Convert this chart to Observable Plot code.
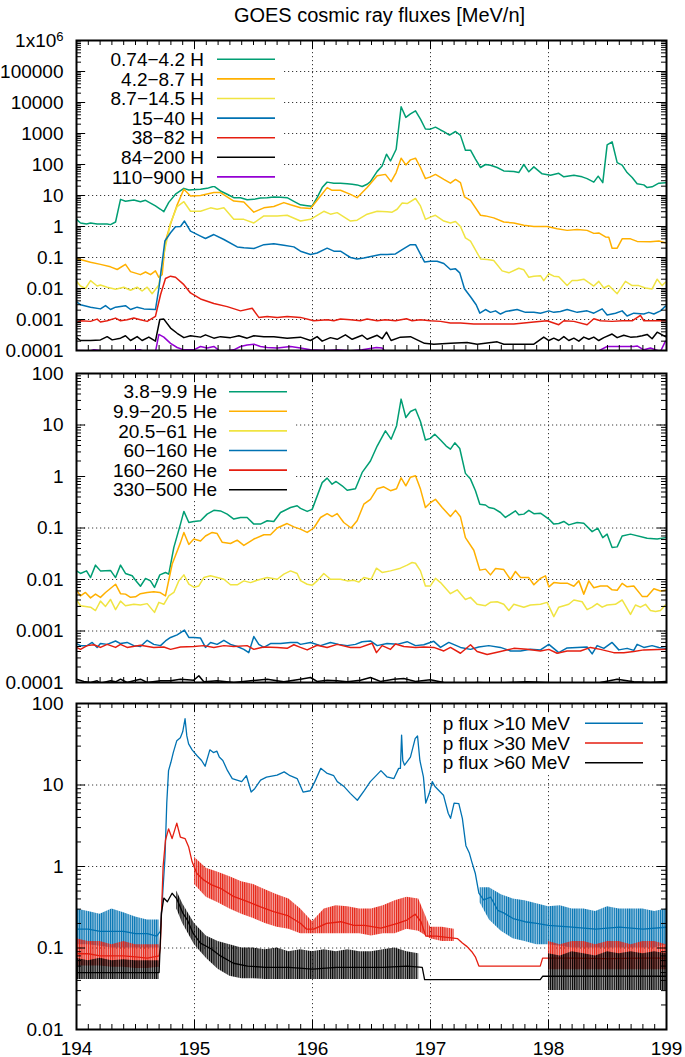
<!DOCTYPE html>
<html><head><meta charset="utf-8">
<script src="https://cdn.jsdelivr.net/npm/d3@7"></script>
<script src="https://cdn.jsdelivr.net/npm/@observablehq/plot@0.6"></script>
<style>
html,body{margin:0;padding:0;background:#fff;overflow:hidden;}
#chart svg{display:block;}
</style></head><body><div id="chart"></div>
<script>
// ---------------- DATA ----------------
const titleText = "GOES cosmic ray fluxes [MeV/n]";
const xTickValues = [194, 195, 196, 197, 198, 199];
const xTickLabels = ["194", "195", "196", "197", "198", "199"];

const yTicks1 = [1e-4, 1e-3, 0.01, 0.1, 1, 10, 100, 1000, 1e4, 1e5, 1e6];
const yLabels1 = ["0.0001", "0.001", "0.01", "0.1", "1", "10", "100", "1000", "10000", "100000", "1x10^6"];
const yTicks2 = [1e-4, 1e-3, 0.01, 0.1, 1, 10, 100];
const yLabels2 = ["0.0001", "0.001", "0.01", "0.1", "1", "10", "100"];
const yTicks3 = [0.01, 0.1, 1, 10, 100];
const yLabels3 = ["0.01", "0.1", "1", "10", "100"];

const names1 = ["0.74\u22124.2 H", "4.2\u22128.7 H", "8.7\u221214.5 H", "15\u221240 H", "38\u221282 H", "84\u2212200 H", "110\u2212900 H"];
const names2 = ["3.8\u22129.9 He", "9.9\u221220.5 He", "20.5\u221261 He", "60\u2212160 He", "160\u2212260 He", "330\u2212500 He"];
const names3 = ["p flux >10 MeV", "p flux >30 MeV", "p flux >60 MeV"];

// proton channels [day, flux]
const H_074_42 = [[194.000,1.7],[194.034,1.3],[194.085,1.2],[194.119,1.3],[194.175,1.2],[194.203,1.2],[194.260,1.2],[194.288,1.15],[194.331,1.4],[194.373,7.5],[194.415,6.5],[194.486,7.2],[194.542,6.3],[194.585,7.0],[194.627,5.7],[194.669,4.6],[194.712,3.6],[194.740,3.0],[194.782,6],[194.839,11],[194.910,17],[194.952,15],[195.051,16],[195.107,17],[195.164,20],[195.220,14],[195.277,11],[195.333,8.5],[195.390,8.5],[195.446,7.3],[195.503,7.5],[195.559,8.3],[195.616,8.5],[195.672,9.0],[195.729,8.8],[195.785,8.5],[195.842,6.5],[195.898,5.0],[195.955,4.7],[195.997,4.5],[196.039,8.5],[196.082,18],[196.124,27],[196.181,25],[196.237,25],[196.294,24],[196.336,23],[196.378,22],[196.421,19.5],[196.463,23],[196.491,28],[196.548,60],[196.590,90],[196.627,215],[196.661,130],[196.709,310],[196.751,7300],[196.791,3300],[196.830,4300],[196.873,5400],[196.915,2900],[196.957,1400],[196.999,1380],[197.042,1600],[197.085,1300],[197.113,1150],[197.161,890],[197.212,1160],[197.254,870],[197.296,290],[197.339,290],[197.381,150],[197.424,80],[197.466,100],[197.508,95],[197.565,80],[197.621,62],[197.706,59],[197.748,55],[197.791,100],[197.833,58],[197.876,84],[197.946,50],[198.017,45],[198.087,52],[198.130,40],[198.215,45],[198.285,40],[198.327,35],[198.384,27],[198.421,42],[198.460,26],[198.497,430],[198.539,540],[198.582,115],[198.624,95],[198.666,55],[198.709,38],[198.751,24],[198.808,22],[198.836,18],[198.878,19],[198.935,25],[198.991,26]];
const H_42_87 = [[194.000,0.093],[194.119,0.07],[194.203,0.06],[194.288,0.05],[194.345,0.041],[194.415,0.06],[194.458,0.035],[194.542,0.028],[194.585,0.034],[194.627,0.028],[194.669,0.037],[194.698,0.023],[194.726,0.028],[194.754,0.34],[194.797,1.2],[194.853,5],[194.910,16],[194.966,9.6],[195.051,10],[195.164,12.4],[195.220,12.4],[195.333,6.6],[195.418,6.2],[195.503,2.9],[195.588,4.0],[195.672,4.4],[195.757,5.9],[195.814,5.0],[195.898,4.0],[195.983,3.8],[196.068,9.6],[196.124,18],[196.166,14.7],[196.237,14.7],[196.322,10.9],[196.378,8.5],[196.463,18],[196.548,43],[196.618,48],[196.666,28],[196.709,55],[196.751,160],[196.791,97],[196.830,141],[196.873,160],[196.915,80],[196.957,35],[196.999,40],[197.042,48],[197.113,33],[197.169,25],[197.212,33],[197.254,26],[197.288,9],[197.339,7],[197.424,2.3],[197.466,2.2],[197.536,1.9],[197.621,1.4],[197.706,1.3],[197.791,1.1],[197.876,1.0],[197.988,1.0],[198.073,0.85],[198.158,0.75],[198.243,0.8],[198.327,0.75],[198.384,0.6],[198.426,0.62],[198.483,0.46],[198.511,0.45],[198.539,0.2],[198.582,0.2],[198.624,0.4],[198.695,0.4],[198.751,0.33],[198.864,0.32],[198.935,0.34],[198.991,0.3]];
const H_87_145 = [[194.000,0.017],[194.034,0.012],[194.076,0.01],[194.119,0.018],[194.175,0.012],[194.203,0.013],[194.260,0.011],[194.331,0.0095],[194.401,0.011],[194.458,0.0088],[194.514,0.011],[194.556,0.0083],[194.599,0.011],[194.641,0.0068],[194.698,0.013],[194.740,0.13],[194.797,1.3],[194.853,4.4],[194.910,6.3],[194.966,3.1],[195.051,3.1],[195.136,4.0],[195.192,3.6],[195.249,4.0],[195.333,1.7],[195.418,1.7],[195.503,1.3],[195.588,2.2],[195.701,2.2],[195.785,2.3],[195.898,1.5],[195.983,1.7],[196.096,3.1],[196.152,2.5],[196.209,2.8],[196.322,1.5],[196.378,1.6],[196.463,2.5],[196.548,3.1],[196.632,3.0],[196.675,2.9],[196.717,3.6],[196.760,5.7],[196.802,5.5],[196.873,8.0],[196.915,4.6],[196.957,1.7],[196.999,2.0],[197.042,2.3],[197.113,1.5],[197.169,1.3],[197.212,1.45],[197.254,1.0],[197.296,0.43],[197.339,0.34],[197.424,0.09],[197.480,0.086],[197.536,0.08],[197.607,0.037],[197.664,0.032],[197.748,0.045],[197.791,0.04],[197.833,0.023],[197.876,0.025],[197.932,0.026],[197.960,0.018],[198.003,0.030],[198.045,0.025],[198.087,0.024],[198.158,0.0125],[198.200,0.018],[198.243,0.018],[198.299,0.02],[198.384,0.012],[198.426,0.017],[198.469,0.0104],[198.511,0.0125],[198.582,0.0068],[198.652,0.017],[198.709,0.0124],[198.765,0.0124],[198.822,0.0104],[198.878,0.0097],[198.921,0.02],[198.963,0.0124],[198.991,0.016]];
const H_15_40 = [[194.000,0.0037],[194.034,0.003],[194.119,0.0025],[194.203,0.0022],[194.246,0.0028],[194.288,0.0021],[194.331,0.0025],[194.415,0.0028],[194.458,0.0021],[194.514,0.0025],[194.571,0.0022],[194.669,0.0021],[194.698,0.01],[194.749,0.34],[194.797,0.63],[194.839,0.98],[194.881,1.0],[194.915,1.5],[194.966,0.71],[195.051,0.49],[195.093,0.41],[195.164,0.55],[195.249,0.38],[195.362,0.22],[195.418,0.205],[195.503,0.195],[195.588,0.26],[195.672,0.28],[195.757,0.25],[195.842,0.22],[195.898,0.16],[195.983,0.125],[196.039,0.14],[196.124,0.2],[196.181,0.16],[196.237,0.16],[196.322,0.1],[196.378,0.09],[196.435,0.097],[196.505,0.11],[196.576,0.125],[196.632,0.125],[196.703,0.13],[196.760,0.18],[196.830,0.26],[196.873,0.26],[196.949,0.072],[196.999,0.076],[197.056,0.076],[197.113,0.064],[197.169,0.041],[197.212,0.043],[197.248,0.032],[197.288,0.0098],[197.339,0.0054],[197.387,0.003],[197.418,0.0016],[197.466,0.0021],[197.508,0.0017],[197.551,0.0019],[197.593,0.0015],[197.635,0.0018],[197.734,0.0021],[197.805,0.0017],[197.876,0.0017],[197.932,0.0016],[198.003,0.0019],[198.045,0.0017],[198.101,0.0018],[198.158,0.0021],[198.243,0.0017],[198.327,0.0019],[198.384,0.0016],[198.455,0.0022],[198.497,0.0014],[198.568,0.0016],[198.624,0.0019],[198.666,0.0013],[198.723,0.0016],[198.808,0.0015],[198.850,0.0017],[198.893,0.0015],[198.949,0.0019],[198.991,0.0027]];
const H_38_82 = [[194.000,0.00081],[194.034,0.00091],[194.119,0.00087],[194.175,0.00103],[194.203,0.00083],[194.260,0.00091],[194.331,0.00111],[194.373,0.00091],[194.429,0.00098],[194.486,0.00111],[194.542,0.00098],[194.599,0.00087],[194.669,0.00126],[194.712,0.0063],[194.754,0.021],[194.797,0.025],[194.839,0.023],[194.910,0.0133],[194.966,0.0072],[195.051,0.0046],[195.164,0.0033],[195.277,0.0026],[195.390,0.0019],[195.489,0.0023],[195.545,0.00117],[195.616,0.00126],[195.701,0.00117],[195.785,0.00126],[195.898,0.00117],[196.011,0.00091],[196.124,0.00098],[196.181,0.00091],[196.237,0.00103],[196.322,0.00098],[196.406,0.00091],[196.463,0.00103],[196.548,0.00091],[196.618,0.00098],[196.703,0.00091],[196.796,0.00106],[196.844,0.00091],[196.915,0.00098],[196.999,0.00091],[197.085,0.00087],[197.169,0.00077],[197.254,0.00077],[197.367,0.00071],[197.480,0.00071],[197.593,0.00071],[197.706,0.00071],[197.791,0.00077],[197.876,0.00083],[197.988,0.00091],[198.087,0.00068],[198.130,0.00091],[198.215,0.00087],[198.327,0.00068],[198.384,0.00106],[198.440,0.00091],[198.539,0.00087],[198.624,0.00091],[198.709,0.00091],[198.779,0.00136],[198.808,0.00091],[198.893,0.00091],[198.991,0.00091]];
const H_84_200 = [[194.000,0.00026],[194.034,0.00021],[194.119,0.00021],[194.203,0.00022],[194.260,0.00028],[194.302,0.00022],[194.373,0.00025],[194.415,0.0003],[194.458,0.00021],[194.514,0.00028],[194.556,0.00021],[194.613,0.00027],[194.669,0.0002],[194.706,0.001],[194.740,0.00103],[194.797,0.00053],[194.853,0.00036],[194.910,0.00026],[194.966,0.0003],[195.051,0.00027],[195.093,0.00032],[195.164,0.00025],[195.220,0.00028],[195.305,0.00026],[195.376,0.0003],[195.446,0.00025],[195.503,0.0003],[195.588,0.00028],[195.672,0.00028],[195.785,0.00025],[195.898,0.00027],[195.983,0.00021],[196.039,0.00028],[196.082,0.0002],[196.152,0.00026],[196.209,0.00023],[196.279,0.00032],[196.336,0.00023],[196.421,0.00031],[196.463,0.00023],[196.548,0.00031],[196.590,0.00024],[196.627,0.00039],[196.666,0.00021],[196.745,0.00027],[196.830,0.00028],[196.887,0.00022],[196.949,0.00017],[197.028,0.00016],[197.169,0.00017],[197.310,0.00018],[197.395,0.00016],[197.565,0.00019],[197.621,0.00016],[197.876,0.00016],[197.960,0.00027],[198.003,0.00021],[198.045,0.00025],[198.087,0.00021],[198.130,0.00028],[198.172,0.00021],[198.215,0.00025],[198.257,0.0002],[198.299,0.00027],[198.342,0.00023],[198.384,0.00027],[198.426,0.00021],[198.469,0.00026],[198.539,0.00034],[198.582,0.00026],[198.638,0.00031],[198.695,0.00027],[198.751,0.00028],[198.794,0.0003],[198.836,0.00033],[198.878,0.00024],[198.921,0.00039],[198.991,0.00028]];
const H_110_900 = [[194.000,0.0001],[194.119,0.000098],[194.147,0.000105],[194.203,0.0001],[194.316,0.000093],[194.542,0.000105],[194.599,0.000085],[194.669,0.00009],[194.698,0.00033],[194.740,0.00027],[194.797,0.00017],[194.853,0.000125],[194.910,0.000105],[194.994,0.000105],[195.051,0.000135],[195.107,0.00012],[195.164,0.000135],[195.220,0.000093],[195.333,0.000105],[195.390,0.000135],[195.446,0.00015],[195.503,0.00016],[195.559,0.000135],[195.616,0.000125],[195.701,0.00012],[195.814,0.000135],[195.898,0.00012],[195.983,0.000105],[196.124,0.0001],[196.209,0.000105],[196.322,0.000098],[196.421,0.000105],[196.542,0.000125],[196.590,0.00012],[196.632,0.00008],[197.000,0.00007],[197.500,0.00007],[198.000,0.00007],[198.356,0.00008],[198.384,0.000098],[198.426,0.000098],[198.497,0.000135],[198.539,0.000135],[198.723,0.000135],[198.751,0.00014],[198.808,0.000105],[198.864,0.00012],[198.949,0.000093],[198.991,0.0002]];

// helium channels [day, flux]
const He_38_99 = [[194.000,0.0147],[194.034,0.0131],[194.085,0.0147],[194.119,0.0109],[194.161,0.019],[194.203,0.0147],[194.288,0.015],[194.331,0.0109],[194.373,0.019],[194.415,0.0131],[194.472,0.0118],[194.500,0.0097],[194.542,0.0074],[194.585,0.0105],[194.627,0.0094],[194.661,0.007],[194.706,0.0123],[194.754,0.0137],[194.782,0.0127],[194.825,0.042],[194.881,0.119],[194.910,0.21],[194.952,0.128],[194.994,0.134],[195.051,0.138],[195.107,0.186],[195.164,0.22],[195.220,0.215],[195.277,0.186],[195.333,0.149],[195.390,0.16],[195.446,0.16],[195.503,0.119],[195.559,0.119],[195.616,0.138],[195.672,0.134],[195.729,0.2],[195.814,0.25],[195.870,0.27],[195.898,0.24],[195.955,0.21],[195.997,0.23],[196.082,0.76],[196.124,0.93],[196.166,0.71],[196.200,0.8],[196.251,0.66],[196.294,0.54],[196.364,0.58],[196.421,1.2],[196.491,2.0],[196.548,3.9],[196.618,7.7],[196.666,5.3],[196.712,9.6],[196.751,31.8],[196.791,14],[196.830,18.3],[196.873,20.3],[196.915,11.7],[196.957,5.1],[196.999,5.5],[197.036,6.6],[197.085,5.1],[197.133,3.9],[197.169,3.4],[197.206,4.5],[197.248,3.5],[197.296,1.15],[197.339,0.89],[197.381,0.53],[197.418,0.29],[197.466,0.28],[197.494,0.25],[197.536,0.24],[197.593,0.2],[197.635,0.16],[197.678,0.186],[197.720,0.215],[197.748,0.18],[197.791,0.186],[197.833,0.22],[197.876,0.19],[197.932,0.194],[198.003,0.149],[198.045,0.119],[198.087,0.122],[198.130,0.134],[198.172,0.115],[198.243,0.128],[198.299,0.124],[198.370,0.085],[198.418,0.099],[198.460,0.065],[198.497,0.076],[198.539,0.042],[198.582,0.043],[198.624,0.07],[198.695,0.076],[198.836,0.063],[198.921,0.061],[198.991,0.065]];
const He_99_205 = [[194.000,0.0062],[194.034,0.0048],[194.076,0.0056],[194.119,0.0044],[194.161,0.0052],[194.203,0.0045],[194.246,0.0056],[194.331,0.0081],[194.373,0.0053],[194.415,0.0052],[194.458,0.0045],[194.500,0.0046],[194.542,0.0053],[194.599,0.0056],[194.655,0.0058],[194.706,0.0056],[194.754,0.0048],[194.811,0.02],[194.881,0.052],[194.910,0.082],[194.952,0.048],[194.994,0.061],[195.051,0.056],[195.093,0.07],[195.150,0.082],[195.192,0.078],[195.234,0.053],[195.305,0.05],[195.362,0.058],[195.418,0.046],[195.503,0.061],[195.588,0.074],[195.644,0.074],[195.701,0.1],[195.785,0.122],[195.842,0.105],[195.898,0.095],[195.955,0.082],[196.011,0.1],[196.068,0.16],[196.124,0.19],[196.166,0.167],[196.209,0.19],[196.265,0.128],[196.327,0.1],[196.378,0.138],[196.435,0.29],[196.491,0.36],[196.548,0.58],[196.604,0.63],[196.661,0.53],[196.712,0.58],[196.751,0.94],[196.791,0.66],[196.830,0.97],[196.873,1.03],[196.915,0.57],[196.957,0.25],[196.999,0.31],[197.042,0.36],[197.099,0.25],[197.169,0.167],[197.212,0.22],[197.254,0.165],[197.296,0.065],[197.367,0.037],[197.418,0.0152],[197.466,0.0159],[197.508,0.0123],[197.551,0.0164],[197.621,0.0156],[197.678,0.01],[197.720,0.0143],[197.763,0.0109],[197.833,0.0109],[197.876,0.0079],[197.932,0.0105],[197.974,0.0118],[198.003,0.0072],[198.045,0.0087],[198.101,0.0085],[198.158,0.0085],[198.215,0.0074],[198.257,0.0094],[198.299,0.0052],[198.342,0.0094],[198.384,0.0069],[198.440,0.0075],[198.497,0.0075],[198.539,0.0063],[198.582,0.0062],[198.624,0.0084],[198.666,0.0072],[198.723,0.0075],[198.794,0.0047],[198.836,0.0047],[198.893,0.0066],[198.949,0.006],[198.991,0.0062]];
const He_205_61 = [[194.000,0.004],[194.034,0.0031],[194.119,0.0029],[194.161,0.0025],[194.203,0.0038],[194.246,0.003],[194.288,0.0041],[194.331,0.0026],[194.373,0.0038],[194.415,0.0031],[194.486,0.0033],[194.542,0.0032],[194.599,0.0034],[194.661,0.0023],[194.698,0.0036],[194.740,0.0033],[194.782,0.0048],[194.825,0.0056],[194.867,0.0094],[194.910,0.0123],[194.952,0.0081],[194.994,0.0071],[195.037,0.0075],[195.079,0.0109],[195.136,0.0118],[195.192,0.0109],[195.249,0.0101],[195.305,0.0079],[195.362,0.0079],[195.418,0.0094],[195.475,0.0087],[195.531,0.0097],[195.616,0.0109],[195.701,0.0101],[195.757,0.0127],[195.814,0.0147],[195.870,0.0131],[195.898,0.0095],[195.955,0.0081],[195.997,0.0077],[196.039,0.0094],[196.096,0.0131],[196.152,0.0101],[196.237,0.0101],[196.294,0.0094],[196.350,0.0097],[196.392,0.0089],[196.435,0.0109],[196.497,0.0101],[196.542,0.0166],[196.590,0.0137],[196.661,0.0147],[196.745,0.0166],[196.802,0.019],[196.844,0.0214],[196.873,0.0207],[196.915,0.0147],[196.957,0.0075],[196.999,0.0075],[197.042,0.0105],[197.085,0.0087],[197.169,0.0053],[197.226,0.0063],[197.296,0.0041],[197.339,0.0045],[197.395,0.0033],[197.466,0.0031],[197.508,0.0036],[197.565,0.0037],[197.621,0.0033],[197.664,0.0025],[197.706,0.0033],[197.748,0.0031],[197.791,0.0029],[197.847,0.0032],[197.932,0.0033],[197.988,0.0036],[198.045,0.0019],[198.087,0.0029],[198.130,0.0031],[198.172,0.0033],[198.215,0.004],[198.285,0.0037],[198.327,0.0026],[198.370,0.0029],[198.412,0.0034],[198.455,0.0029],[198.497,0.0032],[198.567,0.0033],[198.624,0.004],[198.695,0.0021],[198.737,0.0032],[198.779,0.0029],[198.822,0.0033],[198.864,0.0025],[198.907,0.0024],[198.949,0.0025],[198.991,0.0032]];
const He_60_160 = [[194.000,0.00057],[194.034,0.00052],[194.090,0.00052],[194.133,0.0006],[194.175,0.00048],[194.203,0.00057],[194.260,0.00055],[194.331,0.00064],[194.373,0.00057],[194.429,0.0006],[194.486,0.00052],[194.542,0.0005],[194.599,0.00066],[194.655,0.00055],[194.712,0.00052],[194.754,0.00064],[194.797,0.00075],[194.853,0.00084],[194.915,0.00104],[194.952,0.00075],[194.994,0.00075],[195.051,0.00073],[195.093,0.00048],[195.136,0.0006],[195.192,0.00055],[195.249,0.00066],[195.305,0.00055],[195.362,0.0005],[195.418,0.00044],[195.460,0.00038],[195.503,0.00078],[195.545,0.00055],[195.588,0.00048],[195.644,0.00057],[195.729,0.00057],[195.814,0.0006],[195.870,0.0006],[195.898,0.00055],[195.983,0.0006],[196.068,0.00052],[196.152,0.0006],[196.223,0.00055],[196.294,0.00052],[196.364,0.00055],[196.421,0.00062],[196.491,0.00064],[196.548,0.00052],[196.632,0.00057],[196.717,0.00055],[196.802,0.00062],[196.873,0.00052],[196.943,0.00054],[197.028,0.00063],[197.085,0.00048],[197.155,0.0006],[197.254,0.00048],[197.339,0.00044],[197.409,0.00049],[197.494,0.00052],[197.593,0.00048],[197.678,0.00041],[197.763,0.00041],[197.847,0.00044],[197.932,0.00043],[198.003,0.00055],[198.087,0.00038],[198.158,0.00047],[198.243,0.00048],[198.327,0.00049],[198.370,0.00036],[198.412,0.00052],[198.469,0.00046],[198.539,0.0006],[198.596,0.00043],[198.666,0.00046],[198.723,0.00042],[198.751,0.00055],[198.808,0.00048],[198.878,0.00052],[198.935,0.00048],[198.991,0.00046]];
const He_160_260 = [[194.000,0.00048],[194.034,0.00044],[194.090,0.00052],[194.147,0.00054],[194.203,0.00048],[194.260,0.00055],[194.331,0.00048],[194.373,0.00055],[194.429,0.00048],[194.542,0.00053],[194.655,0.00048],[194.740,0.00049],[194.797,0.00044],[194.881,0.00049],[194.994,0.0005],[195.079,0.00052],[195.164,0.00048],[195.249,0.00052],[195.333,0.0005],[195.446,0.00052],[195.503,0.00044],[195.588,0.00049],[195.701,0.00048],[195.785,0.00046],[195.842,0.00054],[195.898,0.00048],[195.955,0.00043],[196.039,0.00053],[196.124,0.00048],[196.209,0.00055],[196.322,0.00048],[196.406,0.00048],[196.505,0.00058],[196.542,0.00038],[196.590,0.00052],[196.661,0.00044],[196.703,0.00056],[196.774,0.0005],[196.873,0.00048],[196.943,0.00049],[197.028,0.00048],[197.113,0.00041],[197.169,0.00048],[197.254,0.00037],[197.339,0.00054],[197.395,0.0004],[197.480,0.00035],[197.593,0.0004],[197.706,0.00046],[197.819,0.00044],[197.932,0.00041],[198.003,0.00044],[198.073,0.00037],[198.158,0.00041],[198.271,0.00041],[198.356,0.00048],[198.440,0.00044],[198.553,0.00038],[198.638,0.00038],[198.723,0.0004],[198.808,0.00043],[198.991,0.00044]];
const He_330_500 = [[194.000,0.000116],[194.062,0.000105],[194.119,0.0001],[194.175,0.000108],[194.203,0.000097],[194.288,0.000108],[194.331,0.000103],[194.373,0.000116],[194.429,0.0001],[194.486,0.000108],[194.542,0.000116],[194.599,0.0001],[194.712,0.000108],[194.797,0.000108],[194.881,0.000116],[194.994,0.000111],[195.037,0.000135],[195.079,0.000103],[195.192,0.000108],[195.333,0.0001],[195.475,0.000108],[195.616,0.000116],[195.757,0.000103],[195.898,0.000116],[195.983,0.000125],[196.039,0.000105],[196.124,0.000111],[196.209,0.000108],[196.294,0.000103],[196.406,0.000111],[196.491,0.000125],[196.576,0.000105],[196.689,0.000116],[196.774,0.00012],[196.873,0.000105],[196.999,0.000113],[197.113,0.0001],[197.254,0.000093],[197.395,0.0001],[197.536,0.000097],[197.678,0.0001],[197.819,0.000103],[197.988,0.0001],[198.158,0.000093],[198.299,0.000097],[198.440,0.0001],[198.582,0.000116],[198.723,0.000103],[198.864,0.0001],[198.991,0.000105]];

// integral proton flux, typical level [day, flux]
const P10 = [[194.00,0.17],[194.10,0.17],[194.20,0.16],[194.30,0.16],[194.40,0.16],[194.50,0.15],[194.60,0.15],[194.68,0.14],[194.71,0.16],[194.73,0.45],[194.75,1.3],[194.765,6],[194.78,15],[194.80,19],[194.82,25],[194.85,35],[194.88,38],[194.90,45],[194.92,65],[194.935,40],[194.95,32],[194.98,27],[195.02,23],[195.06,20],[195.09,17],[195.13,27],[195.16,25],[195.19,26],[195.21,22],[195.24,20],[195.28,15],[195.32,12],[195.36,11.5],[195.40,11],[195.44,13],[195.48,8.2],[195.51,9],[195.56,11.5],[195.61,12.5],[195.70,13.2],[195.76,14.5],[195.81,13],[195.87,12],[195.92,8.2],[195.98,8.5],[196.02,11],[196.07,16],[196.12,14],[196.18,13],[196.21,11],[196.27,9.5],[196.32,7.9],[196.38,6.5],[196.44,8.6],[196.49,11],[196.58,15],[196.63,12.6],[196.69,12],[196.73,16],[196.745,16],[196.755,41],[196.765,20],[196.78,17.5],[196.83,22],[196.87,37],[196.89,40],[196.91,20],[196.94,12.6],[196.96,6],[196.99,7.9],[197.015,11],[197.04,9.5],[197.11,7.5],[197.15,4.5],[197.17,3.9],[197.20,6],[197.24,5.9],[197.27,3.9],[197.30,1.8],[197.33,1.45],[197.35,1.14],[197.38,0.82],[197.41,0.47],[197.45,0.39],[197.51,0.42],[197.57,0.29],[197.62,0.27],[197.70,0.23],[197.80,0.21],[197.90,0.2],[198.00,0.19],[198.20,0.18],[198.40,0.17],[198.60,0.18],[198.80,0.17],[199.00,0.18]];
const P30 = [[194.00,0.085],[194.10,0.085],[194.20,0.08],[194.30,0.08],[194.40,0.08],[194.50,0.078],[194.60,0.075],[194.70,0.08],[194.71,0.1],[194.734,1.0],[194.754,2.1],[194.78,2.9],[194.81,2.2],[194.85,3.4],[194.88,2.3],[194.92,2.2],[194.95,1.75],[194.98,1.14],[195.02,0.82],[195.08,0.68],[195.14,0.6],[195.22,0.54],[195.33,0.43],[195.45,0.37],[195.56,0.32],[195.67,0.28],[195.79,0.25],[195.90,0.2],[195.95,0.17],[196.01,0.17],[196.12,0.2],[196.24,0.21],[196.35,0.19],[196.44,0.19],[196.58,0.175],[196.72,0.2],[196.80,0.22],[196.87,0.26],[196.92,0.21],[196.96,0.14],[197.05,0.14],[197.14,0.135],[197.23,0.13],[197.27,0.115],[197.31,0.104],[197.35,0.09],[197.38,0.078],[197.41,0.06],[197.93,0.06],[197.95,0.075],[198.20,0.075],[198.50,0.074],[198.80,0.075],[199.00,0.075]];
const P60 = [[194.00,0.05],[194.20,0.05],[194.40,0.05],[194.60,0.05],[194.70,0.05],[194.72,0.27],[194.74,0.41],[194.77,0.37],[194.81,0.47],[194.85,0.4],[194.90,0.27],[194.94,0.22],[194.99,0.15],[195.05,0.115],[195.14,0.098],[195.22,0.08],[195.33,0.065],[195.45,0.06],[195.60,0.058],[195.80,0.058],[196.00,0.055],[196.20,0.058],[196.40,0.058],[196.60,0.058],[196.80,0.06],[196.93,0.058],[196.95,0.041],[197.93,0.041],[197.95,0.045],[198.20,0.045],[198.50,0.045],[198.80,0.045],[199.00,0.045]];
// fluctuation envelope of the 5-min samples [day, low, high] (null = gap)
const P10noise = [[194.0,0.11,0.30],[194.1,0.11,0.28],[194.2,0.105,0.26],[194.3,0.10,0.30],[194.4,0.10,0.27],[194.5,0.10,0.24],[194.6,0.10,0.22],[194.7,0.10,0.22],[195.0,null,null],[197.42,0.36,0.55],[197.5,0.22,0.55],[197.6,0.16,0.45],[197.7,0.13,0.40],[197.8,0.12,0.38],[197.9,0.11,0.35],[198.0,0.11,0.32],[198.1,0.105,0.33],[198.2,0.10,0.30],[198.3,0.10,0.30],[198.4,0.10,0.28],[198.5,0.10,0.32],[198.6,0.10,0.30],[198.7,0.10,0.30],[198.8,0.10,0.30],[198.9,0.10,0.28],[199.0,0.11,0.30]];
const P30noise = [[194.0,0.06,0.13],[194.1,0.06,0.12],[194.2,0.06,0.12],[194.3,0.058,0.11],[194.4,0.058,0.12],[194.5,0.056,0.11],[194.6,0.056,0.11],[194.7,0.058,0.11],[194.8,null,null],[195.0,0.6,1.3],[195.1,0.42,0.95],[195.2,0.36,0.85],[195.3,0.30,0.75],[195.4,0.26,0.65],[195.5,0.23,0.60],[195.6,0.20,0.52],[195.7,0.18,0.45],[195.8,0.17,0.40],[195.9,0.15,0.30],[196.0,0.15,0.21],[196.1,0.15,0.30],[196.2,0.15,0.33],[196.3,0.15,0.32],[196.4,0.15,0.30],[196.5,0.14,0.30],[196.6,0.15,0.33],[196.7,0.15,0.38],[196.8,0.17,0.42],[196.9,0.16,0.40],[197.0,0.13,0.18],[197.1,0.12,0.18],[197.2,0.12,0.17],[197.3,null,null],[198.0,0.054,0.12],[198.1,0.054,0.11],[198.2,0.054,0.12],[198.3,0.054,0.12],[198.4,0.054,0.11],[198.5,0.054,0.12],[198.6,0.054,0.12],[198.7,0.054,0.11],[198.8,0.054,0.12],[198.9,0.054,0.12],[199.0,0.054,0.11]];
const P60noise = [[194.0,0.041,0.075],[194.1,0.041,0.07],[194.2,0.041,0.075],[194.3,0.041,0.07],[194.4,0.041,0.072],[194.5,0.041,0.07],[194.6,0.041,0.07],[194.7,0.041,0.07],[194.8,null,null],[194.85,0.3,0.5],[194.9,0.2,0.35],[195.0,0.11,0.2],[195.1,0.075,0.14],[195.2,0.055,0.12],[195.3,0.045,0.11],[195.4,0.042,0.10],[195.5,0.042,0.10],[195.6,0.041,0.095],[195.7,0.041,0.10],[195.8,0.041,0.09],[195.9,0.041,0.095],[196.0,0.041,0.09],[196.1,0.041,0.095],[196.2,0.041,0.09],[196.3,0.041,0.095],[196.4,0.041,0.09],[196.5,0.041,0.09],[196.6,0.041,0.095],[196.7,0.041,0.10],[196.8,0.041,0.09],[196.9,0.041,0.085],[197.0,null,null],[198.0,0.03,0.085],[198.1,0.03,0.08],[198.2,0.03,0.09],[198.3,0.03,0.085],[198.4,0.03,0.08],[198.5,0.03,0.09],[198.6,0.03,0.085],[198.7,0.03,0.09],[198.8,0.03,0.085],[198.9,0.03,0.09],[199.0,0.03,0.085]];

// ---------------- STYLE ----------------
const colors1 = ["#009e73", "#ffb000", "#f0e442", "#0072b2", "#e51e10", "#000000", "#9400d3"];
const colors2 = ["#009e73", "#ffb000", "#f0e442", "#0072b2", "#e51e10", "#000000"];
const colors3 = ["#0072b2", "#e51e10", "#000000"];
const FONT = '"Liberation Sans", Arial, Helvetica, sans-serif';
const W = 685, ML = 76, MR = 19;
const PW = W - ML - MR;

const rows = (pairs) => pairs.map(([t, v]) => ({t, v}));
const bandRows = (tr) => tr.map(([t, lo, hi]) => ({t, lo: lo == null ? NaN : lo, hi: hi == null ? NaN : hi}));

function decor(yTicks, plotH) {
  const xMinor = d3.range(1941, 1990).filter(k => k % 10 !== 0).map(k => k / 10);
  const e0 = Math.round(Math.log10(yTicks[0])), e1 = Math.round(Math.log10(yTicks[yTicks.length - 1]));
  const yMinor = [];
  for (let e = e0; e < e1; e++) for (let m = 2; m <= 9; m++) yMinor.push(m * Math.pow(10, e));
  const gridStyle = {stroke: "#3a3a3a", strokeWidth: 1, strokeDasharray: "1.2,2.8"};
  const grid = [
    Plot.ruleX(xTickValues.slice(1, -1), {x: d => d, ...gridStyle, ariaLabel: "gridx"}),
    Plot.ruleY(yTicks.slice(1, -1), {y: d => d, ...gridStyle, ariaLabel: "gridy"})
  ];
  const tk = {stroke: "black", strokeWidth: 1};
  const ticks = [
    Plot.tickX(xMinor, {x: d => d, insetBottom: plotH - 5, ...tk}),
    Plot.tickX(xMinor, {x: d => d, insetTop: plotH - 5, ...tk}),
    Plot.tickX(xTickValues, {x: d => d, insetBottom: plotH - 9, ...tk}),
    Plot.tickX(xTickValues, {x: d => d, insetTop: plotH - 9, ...tk}),
    Plot.tickY(yMinor, {y: d => d, insetRight: PW - 5, ...tk}),
    Plot.tickY(yMinor, {y: d => d, insetLeft: PW - 5, ...tk}),
    Plot.tickY(yTicks, {y: d => d, insetRight: PW - 9, ...tk}),
    Plot.tickY(yTicks, {y: d => d, insetLeft: PW - 9, ...tk})
  ];
  return {grid, ticks};
}

function addLegend(svg, names, colors, cfg) {
  const g = d3.create("svg:g").attr("font-family", FONT).attr("font-size", 19);
  g.append("rect").attr("x", cfg.box[0]).attr("y", cfg.box[1]).attr("width", cfg.box[2]).attr("height", cfg.box[3]).attr("fill", "white");
  names.forEach((lab, i) => {
    const y = cfg.y0 + i * cfg.dy;
    g.append("text").attr("x", cfg.textRight).attr("y", y).attr("dy", "0.35em").attr("text-anchor", "end").attr("fill", "black").text(lab);
    g.append("line").attr("x1", cfg.line[0]).attr("x2", cfg.line[1]).attr("y1", y).attr("y2", y).attr("stroke", colors[i]).attr("stroke-width", 1.6);
  });
  const anchor = svg.querySelector('[aria-label="gridy"]');
  if (anchor) anchor.after(g.node()); else svg.append(g.node());
}

// fine vertical-stripe patterns that render the dense 5-min fluctuations
function addNoisePatterns(svg, colors) {
  const defs = d3.select(svg).insert("defs", ":first-child");
  colors.forEach((c, i) => {
    const p = defs.append("pattern").attr("id", "noise" + i).attr("patternUnits", "userSpaceOnUse")
      .attr("width", 2.2).attr("height", 8);
    p.append("rect").attr("width", 2.2).attr("height", 8).attr("fill", c).attr("fill-opacity", 0.38);
    p.append("rect").attr("x", 0).attr("width", 1.1).attr("height", 8).attr("fill", c);
  });
}

function panel({height, mt, mb, yTicks, yLabels, series, colors, bands, lw, showX}) {
  const plotH = height - mt - mb;
  const {grid, ticks} = decor(yTicks, plotH);
  const dataMarks = [];
  series.forEach((s, i) => {
    if (bands && bands[i]) dataMarks.push(Plot.areaY(bandRows(bands[i]), {x: "t", y1: "lo", y2: "hi", fill: `url(#noise${i})`, clip: true}));
    dataMarks.push(Plot.line(rows(s), {x: "t", y: "v", stroke: colors[i], strokeWidth: lw, clip: true}));
  });
  const marks = [
    ...grid,
    ...dataMarks,
    ...ticks,
    Plot.axisY(yTicks, {anchor: "left", tickSize: 0, tickPadding: 13, tickFormat: d => yLabels[yTicks.indexOf(d)], fontSize: 19}),
    Plot.frame({stroke: "black", strokeWidth: 2})
  ];
  if (showX) marks.push(Plot.axisX(xTickValues, {anchor: "bottom", tickSize: 0, tickPadding: 12, tickFormat: d => xTickLabels[xTickValues.indexOf(d)], fontSize: 19}));
  const svg = Plot.plot({
    width: W, height, marginLeft: ML, marginRight: MR, marginTop: mt, marginBottom: mb,
    style: {fontFamily: FONT, fontSize: "19px", background: "transparent", overflow: "visible", color: "black"},
    x: {domain: [194, 199], label: null, ...(showX ? {} : {axis: null})},
    y: {type: "log", domain: [yTicks[0], yTicks[yTicks.length - 1]], label: null},
    marks
  });
  if (bands) addNoisePatterns(svg, colors);
  return svg;
}

const root = document.getElementById("chart");

const svg1 = panel({height: 360, mt: 40, mb: 10, yTicks: yTicks1, yLabels: yLabels1,
  series: [H_074_42, H_42_87, H_87_145, H_15_40, H_38_82, H_84_200, H_110_900], colors: colors1, lw: 1.5});
const svg2 = panel({height: 332, mt: 13, mb: 10, yTicks: yTicks2, yLabels: yLabels2,
  series: [He_38_99, He_99_205, He_205_61, He_60_160, He_160_260, He_330_500], colors: colors2, lw: 1.5});
const svg3 = panel({height: 365, mt: 11, mb: 28, yTicks: yTicks3, yLabels: yLabels3,
  series: [P10, P30, P60], colors: colors3, bands: [P10noise, P30noise, P60noise], lw: 1.3, showX: true});

root.append(svg1, svg2, svg3);

addLegend(svg1, names1, colors1, {box: [87, 50, 197, 136], textRight: 204, line: [217, 275], y0: 59.3, dy: 19.6});
addLegend(svg2, names2, colors2, {box: [87, 23, 208, 117], textRight: 217, line: [229, 287], y0: 31.7, dy: 19.6});
addLegend(svg3, names3, colors3, {box: [436, 21, 219, 62], textRight: 570, line: [585, 643], y0: 31.3, dy: 19.7});

// superscript exponent on the 10^6 label
d3.select(svg1).selectAll("text").each(function () {
  if (this.textContent === "1x10^6") {
    const t = d3.select(this);
    t.text("1x10");
    t.append("tspan").attr("dy", "-0.45em").attr("font-size", "13px").text("6");
  }
});

// title
d3.select(svg1).append("text").attr("x", 379.5).attr("y", 21.5).attr("text-anchor", "middle")
  .attr("font-family", FONT).attr("font-size", 20).attr("fill", "black").text(titleText);
</script>
</body></html>
